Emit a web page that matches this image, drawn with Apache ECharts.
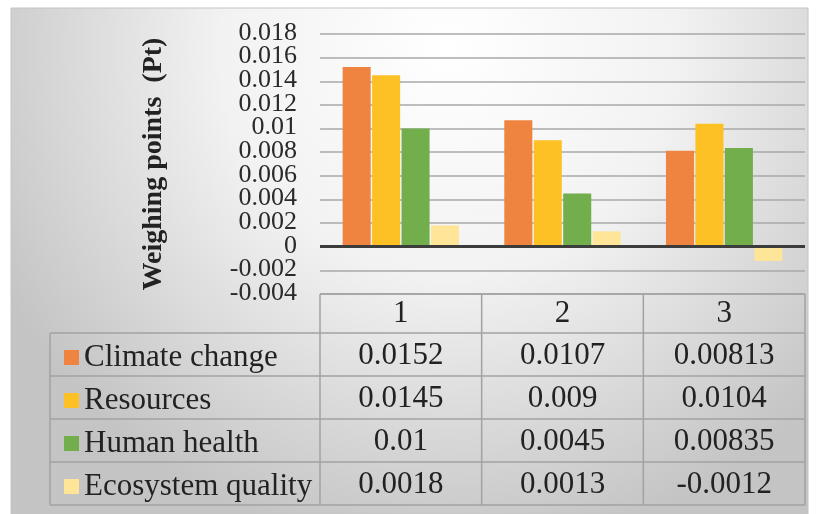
<!DOCTYPE html>
<html>
<head>
<meta charset="utf-8">
<script src="https://cdn.jsdelivr.net/npm/echarts@6/dist/echarts.min.js"></script>
<style>
html,body{margin:0;padding:0;background:#fff;}
#chart{width:817px;height:514px;}
</style>
</head>
<body>
<div id="chart"></div>
<script>
// ---- data ----
const categories = ['1', '2', '3'];
const seriesNames = ['Climate change', 'Resources', 'Human health', 'Ecosystem quality'];
const climateChange = [0.0152, 0.0107, 0.00813];
const resources = [0.0145, 0.009, 0.0104];
const humanHealth = [0.01, 0.0045, 0.00835];
const ecosystemQuality = [0.0018, 0.0013, -0.0012];
const yMin = -0.004, yMax = 0.018, yStep = 0.002;
const yTickLabels = ['-0.004', '-0.002', '0', '0.002', '0.004', '0.006', '0.008', '0.01', '0.012', '0.014', '0.016', '0.018'];
const yTitle = 'Weighing points  (Pt)';

// ---- styles / layout ----
const seriesValues = [climateChange, resources, humanHealth, ecosystemQuality];
const colors = ['#EE843F', '#FDC125', '#72AE4C', '#FFE597'];
const FONT = '"Liberation Serif", "Times New Roman", serif';
const gridLeft = 320, gridRight = 805, gridTop = 34, gridBottom = 294;
const tableLeft = 50, headerBottom = 333, rowH = 43;
const tableBottom = headerBottom + rowH * 4;
const tableLine = '#a2a2a2';

const chart = echarts.init(document.getElementById('chart'), null, {renderer: 'canvas'});

const series = seriesNames.map((name, i) => ({
  name: name,
  type: 'bar',
  data: seriesValues[i],
  itemStyle: {color: colors[i]},
  barGap: '5%',
  barCategoryGap: '28%',
  z: 3
}));
series[0].markLine = {
  silent: true,
  symbol: ['none', 'none'],
  label: {show: false},
  lineStyle: {color: '#3c3c3c', width: 3, type: 'solid'},
  data: [{yAxis: 0}],
  z: 5
};

const option = {
  animation: false,
  textStyle: {fontFamily: FONT},
  grid: {left: gridLeft, right: 817 - gridRight, top: gridTop, bottom: 514 - gridBottom, containLabel: false},
  legend: {
    orient: 'vertical',
    left: 59,
    top: 337,
    itemWidth: 15,
    itemHeight: 15,
    itemGap: 12,
    icon: 'rect',
    selectedMode: false,
    data: seriesNames,
    textStyle: {fontFamily: FONT, fontSize: 31, color: '#222'}
  },
  xAxis: {
    type: 'category',
    data: categories,
    axisLine: {show: false},
    axisTick: {show: false},
    axisLabel: {fontFamily: FONT, fontSize: 31, color: '#222', margin: 4},
    splitLine: {show: false}
  },
  yAxis: {
    type: 'value',
    min: yMin,
    max: yMax,
    interval: yStep,
    name: yTitle,
    nameLocation: 'middle',
    nameGap: 152,
    nameTextStyle: {fontFamily: FONT, fontSize: 28, fontWeight: 'bold', color: '#222'},
    axisLine: {show: false},
    axisTick: {show: false},
    axisLabel: {show: false},
    splitLine: {lineStyle: {color: '#a8a8a8', width: 1.5}}
  },
  series: series
};
chart.setOption(option);

const graphics = [];
graphics.push({
  type: 'rect', z: -100, silent: true,
  shape: {x: 11, y: 8, width: 797, height: 506},
  style: {
    fill: new echarts.graphic.RadialGradient(0.55, 0.08, 1.0, [
      {offset: 0, color: '#ffffff'},
      {offset: 0.45, color: '#f2f2f2'},
      {offset: 1, color: '#c4c4c4'}
    ]),
    stroke: '#c4c4c4', lineWidth: 1
  }
});

// ---- y tick labels, positioned by the value axis ----
yTickLabels.forEach(t => {
  const py = chart.convertToPixel({yAxisIndex: 0}, Number(t));
  graphics.push({
    type: 'text', silent: true, z: 11,
    x: gridLeft - 23, y: py - 1,
    style: {text: t, font: '26px ' + FONT, fill: '#2a2a2a', align: 'right', verticalAlign: 'middle'}
  });
});

// ---- data table (aligned to the category axis) ----
const centers = categories.map((c, i) => chart.convertToPixel({xAxisIndex: 0}, i));
const catW = (gridRight - gridLeft) / categories.length;
function hline(x1, x2, y) {
  graphics.push({type: 'line', silent: true, z: 10, shape: {x1: x1, y1: y, x2: x2, y2: y}, style: {stroke: tableLine, lineWidth: 1.5}});
}
function vline(x, y1, y2) {
  graphics.push({type: 'line', silent: true, z: 10, shape: {x1: x, y1: y1, x2: x, y2: y2}, style: {stroke: tableLine, lineWidth: 1.5}});
}
hline(gridLeft, gridRight, gridBottom);
for (let r = 0; r <= 4; r++) hline(tableLeft, gridRight, headerBottom + r * rowH);
vline(tableLeft, headerBottom, tableBottom);
vline(gridLeft, gridBottom, tableBottom);
centers.forEach(cx => vline(cx + catW / 2, gridBottom, tableBottom));
seriesValues.forEach((vals, r) => {
  vals.forEach((v, i) => {
    graphics.push({
      type: 'text', silent: true, z: 11,
      x: centers[i], y: headerBottom + r * rowH + rowH / 2 + 1,
      style: {text: String(v), font: '31px ' + FONT, fill: '#222', align: 'center', verticalAlign: 'middle'}
    });
  });
});
chart.setOption({graphic: {elements: graphics}});
</script>
</body>
</html>
